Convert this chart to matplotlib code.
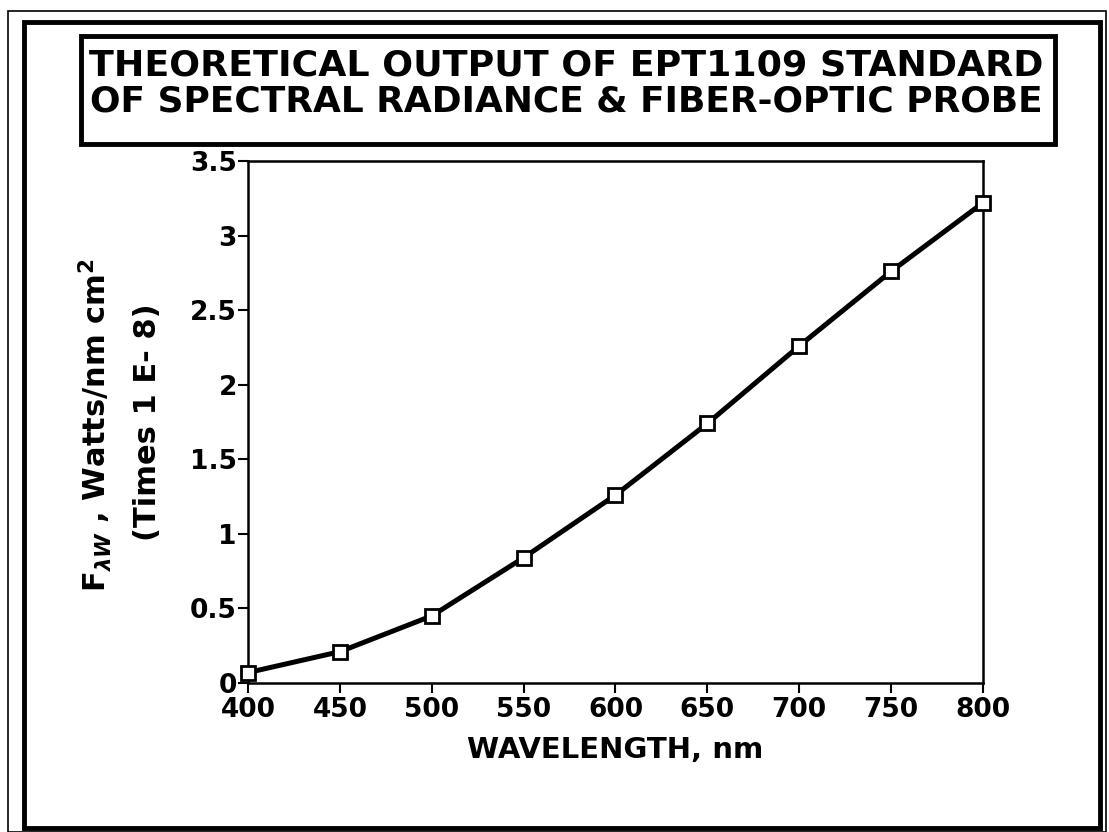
import numpy as np
import matplotlib
matplotlib.use("Agg")
import matplotlib.pyplot as plt
from matplotlib.patches import Rectangle

plt.rcParams['font.family'] = ['DejaVu Sans']
plt.rcParams['font.weight'] = 'bold'
plt.rcParams['mathtext.fontset'] = 'custom'
plt.rcParams['mathtext.rm'] = 'DejaVu Sans:bold'
plt.rcParams['mathtext.it'] = 'DejaVu Sans:bold:oblique'
plt.rcParams['mathtext.bf'] = 'DejaVu Sans:bold'

# data (flux in units of 1e-8 W/nm cm2)
wavelength = [400, 450, 500, 550, 600, 650, 700, 750, 800]
flux = [0.07, 0.21, 0.45, 0.84, 1.26, 1.74, 2.26, 2.76, 3.22]

x_ticks = [400, 450, 500, 550, 600, 650, 700, 750, 800]
y_ticks = [0, 0.5, 1, 1.5, 2, 2.5, 3, 3.5]
y_ticklabels = ['0', '0.5', '1', '1.5', '2', '2.5', '3', '3.5']

title_lines = ['THEORETICAL OUTPUT OF EPT1109 STANDARD',
               'OF SPECTRAL RADIANCE & FIBER-OPTIC PROBE']

W, H = 1109, 832
fig = plt.figure(figsize=(W / 100, H / 100), dpi=100)
renderer = fig.canvas.get_renderer()

# page frames (pixel coords from top-left)
def px_rect(x0, y0, x1, y1, lw):
    r = Rectangle((x0 / W, 1 - y1 / H), (x1 - x0) / W, (y1 - y0) / H,
                  transform=fig.transFigure, fill=False, edgecolor='black', linewidth=lw)
    fig.add_artist(r)

px_rect(8, 11, 1106, 832, 1.2)
px_rect(24, 22, 1100, 828, 3.5)
px_rect(81, 36, 1055, 144, 3.5)

# title lines, sized to fill the box
for line, yc in zip(title_lines, [65, 101]):
    t = fig.text(566 / W, 1 - yc / H, line, ha='center', va='center', fontsize=24, fontweight='bold')
    w = t.get_window_extent(renderer).width
    t.set_fontsize(24 * 956 / w)

ax = fig.add_axes([248 / W, 1 - 683 / H, (983 - 248) / W, (683 - 161) / H])
ax.plot(wavelength, flux, color='black', linewidth=3.6, marker='s', markersize=10,
        markerfacecolor='white', markeredgecolor='black', markeredgewidth=2, zorder=3,
        clip_on=False)

ax.set_xlim(400, 800)
ax.set_ylim(0, 3.5)
ax.set_xticks(x_ticks)
ax.set_yticks(y_ticks)
ax.set_yticklabels(y_ticklabels)
for sp in ax.spines.values():
    sp.set_linewidth(1.8)
ax.tick_params(direction='out', length=7, width=1.5, labelsize=19, pad=1)
ax.tick_params(axis='x', pad=3)
for lab in ax.get_xticklabels() + ax.get_yticklabels():
    lab.set_fontweight('bold')

ax.set_xlabel('WAVELENGTH, nm', fontsize=21, fontweight='bold')
ax.xaxis.set_label_coords(0.5, -(750 - 683) / (683 - 161))
ax.xaxis.label.set_va('center')

fig.text(95 / W, 1 - 425 / H, r'F$_{\lambda W}$ , Watts/nm cm$^2$', rotation=90,
         ha='center', va='center', fontsize=22, fontweight='bold')
fig.text(148 / W, 1 - 422 / H, '(Times 1 E- 8)', rotation=90,
         ha='center', va='center', fontsize=22, fontweight='bold')

fig.savefig('out.png', dpi=100)
